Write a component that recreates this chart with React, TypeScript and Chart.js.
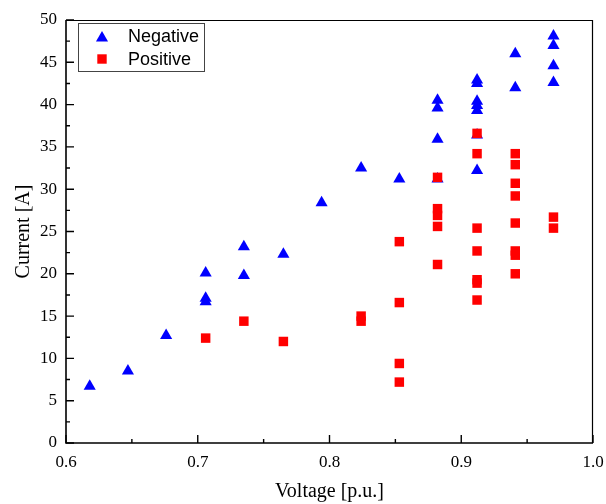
import React, { useEffect, useRef } from "react";
import { Chart, registerables } from "chart.js";

Chart.register(...registerables);

// Negative series (triangles)
const negVoltage = [
  0.618, 0.647, 0.676,
  0.706, 0.706, 0.706,
  0.735, 0.735,
  0.765, 0.794, 0.824, 0.853,
  0.882, 0.882, 0.882, 0.882,
  0.912, 0.912, 0.912, 0.912, 0.912, 0.912, 0.912,
  0.941, 0.941,
  0.97, 0.97, 0.97, 0.97,
];
const negCurrent = [
  6.7, 8.5, 12.7,
  20.1, 17.1, 16.7,
  23.2, 19.8,
  22.3, 28.4, 32.5, 31.2,
  40.5, 39.6, 35.9, 31.2,
  42.9, 42.5, 40.4, 39.9, 39.3, 36.4, 32.2,
  46.0, 42.0,
  48.1, 47.0, 44.6, 42.6,
];

// Positive series (squares)
const posVoltage = [
  0.706, 0.735, 0.765,
  0.824, 0.824,
  0.853, 0.853, 0.853, 0.853,
  0.882, 0.882, 0.882, 0.882, 0.882,
  0.912, 0.912, 0.912, 0.912, 0.912, 0.912, 0.912,
  0.941, 0.941, 0.941, 0.941, 0.941, 0.941, 0.941, 0.941,
  0.97, 0.97,
];
const posCurrent = [
  12.4, 14.4, 12.0,
  15.0, 14.4,
  23.8, 16.6, 9.4, 7.2,
  31.4, 27.7, 26.9, 25.6, 21.1,
  36.6, 34.2, 25.4, 22.7, 19.3, 18.9, 16.9,
  34.2, 32.9, 30.7, 29.2, 26.0, 22.7, 22.2, 20.0,
  26.7, 25.4,
];

const seriesLabels = ["Negative", "Positive"];
const xTitle = "Voltage [p.u.]";
const yTitle = "Current [A]";

const xMajor = [0.6, 0.7, 0.8, 0.9, 1.0];
const xMinor = [0.65, 0.75, 0.85, 0.95];
const yMajor = [0, 5, 10, 15, 20, 25, 30, 35, 40, 45, 50];
const yMinor = [2.5, 7.5, 12.5, 17.5, 22.5, 27.5, 32.5, 37.5, 42.5, 47.5];

const framePlugin = {
  id: "frameTicks",
  afterDatasetsDraw(chart: any) {
    const { ctx, chartArea } = chart;
    const xs = chart.scales.x;
    const ys = chart.scales.y;
    const { left, right, top, bottom } = chartArea;
    ctx.save();
    ctx.strokeStyle = "#000";
    // top & right frame
    ctx.lineWidth = 1.2;
    ctx.beginPath();
    ctx.moveTo(left, top + 0.5);
    ctx.lineTo(right, top + 0.5);
    ctx.moveTo(right - 0.5, top);
    ctx.lineTo(right - 0.5, bottom);
    ctx.stroke();
    // left & bottom axes
    ctx.lineWidth = 1.6;
    ctx.beginPath();
    ctx.moveTo(left, top);
    ctx.lineTo(left, bottom);
    ctx.lineTo(right, bottom);
    ctx.stroke();
    // inward ticks
    ctx.lineWidth = 1.4;
    ctx.beginPath();
    xMajor.forEach((v) => {
      const p = xs.getPixelForValue(v);
      ctx.moveTo(p, bottom);
      ctx.lineTo(p, bottom - 8);
    });
    xMinor.forEach((v) => {
      const p = xs.getPixelForValue(v);
      ctx.moveTo(p, bottom);
      ctx.lineTo(p, bottom - 4);
    });
    yMajor.forEach((v) => {
      const p = ys.getPixelForValue(v);
      ctx.moveTo(left, p);
      ctx.lineTo(left + 8, p);
    });
    yMinor.forEach((v) => {
      const p = ys.getPixelForValue(v);
      ctx.moveTo(left, p);
      ctx.lineTo(left + 4, p);
    });
    ctx.stroke();

    // legend box
    const bx = left + 12, by = top + 3, bw = 126, bh = 48;
    ctx.lineWidth = 1;
    ctx.strokeStyle = "#444";
    ctx.fillStyle = "#fff";
    ctx.fillRect(bx, by, bw, bh);
    ctx.strokeRect(bx + 0.5, by + 0.5, bw, bh);
    // triangle marker
    const mx = bx + 24;
    const r = 7;
    const cy = by + 15;
    ctx.fillStyle = "#0000FF";
    ctx.beginPath();
    ctx.moveTo(mx, cy - r);
    ctx.lineTo(mx + r * Math.sin((2 * Math.PI) / 3), cy - r * Math.cos((2 * Math.PI) / 3));
    ctx.lineTo(mx + r * Math.sin((4 * Math.PI) / 3), cy - r * Math.cos((4 * Math.PI) / 3));
    ctx.closePath();
    ctx.fill();
    // square marker
    const s = 4.7;
    const cy2 = by + 36;
    ctx.fillStyle = "#FF0000";
    ctx.fillRect(mx - s, cy2 - s, 2 * s, 2 * s);
    // text
    ctx.fillStyle = "#000";
    ctx.font = '18px "Liberation Sans", Arial, sans-serif';
    ctx.textBaseline = "middle";
    ctx.textAlign = "left";
    ctx.fillText(seriesLabels[0], bx + 50, by + 14);
    ctx.fillText(seriesLabels[1], bx + 50, by + 37);
    ctx.restore();
  },
};

export default function App() {
  const ref = useRef<HTMLCanvasElement | null>(null);
  useEffect(() => {
    if (!ref.current) return;
    const negData = negVoltage.map((v, i) => ({ x: v, y: negCurrent[i] }));
    const posData = posVoltage.map((v, i) => ({ x: v, y: posCurrent[i] }));
    const tickFont = { family: '"Liberation Serif", "Times New Roman", serif', size: 17 };
    const titleFont = { family: '"Liberation Serif", "Times New Roman", serif', size: 20 };
    const chart = new Chart(ref.current, {
      type: "scatter",
      data: {
        datasets: [
          {
            label: seriesLabels[1],
            data: posData,
            pointStyle: "rect",
            pointRadius: 6.7,
            pointHoverRadius: 6.7,
            pointBorderWidth: 0,
            backgroundColor: "#FF0000",
            borderColor: "#FF0000",
          },
          {
            label: seriesLabels[0],
            data: negData,
            pointStyle: "triangle",
            pointRadius: 7,
            pointHoverRadius: 7,
            pointBorderWidth: 0,
            backgroundColor: "#0000FF",
            borderColor: "#0000FF",
          },
        ],
      },
      options: {
        animation: false,
        responsive: false,
        devicePixelRatio: 1,
        layout: { padding: { top: 20, right: 13, left: 0, bottom: 0 } },
        plugins: { legend: { display: false }, tooltip: { enabled: false } },
        scales: {
          x: {
            type: "linear",
            min: 0.6,
            max: 1.0,
            grid: { display: false, drawTicks: false, tickLength: 0 },
            border: { display: false },
            ticks: {
              stepSize: 0.1,
              padding: 9,
              color: "#000",
              font: tickFont,
              maxRotation: 0,
              callback: (v: any) => Number(v).toFixed(1),
            },
            title: { display: true, text: xTitle, color: "#000", font: titleFont, padding: { top: 0, bottom: 0 } },
            afterFit: (s: any) => {
              s.height = 61;
              s.paddingLeft = 0;
              s.paddingRight = 0;
            },
          },
          y: {
            type: "linear",
            min: 0,
            max: 50,
            grid: { display: false, drawTicks: false, tickLength: 0 },
            border: { display: false },
            ticks: {
              stepSize: 5,
              padding: 9,
              color: "#000",
              font: tickFont,
            },
            title: { display: true, text: yTitle, color: "#000", font: titleFont, padding: { top: 12, bottom: 0 } },
            afterFit: (s: any) => {
              s.width = 66;
              s.paddingTop = 0;
              s.paddingBottom = 0;
            },
          },
        },
      },
      plugins: [framePlugin],
    });
    return () => chart.destroy();
  }, []);
  return (
    <div style={{ position: "fixed", left: 0, top: 0, width: 606, height: 504, background: "#fff" }}>
      <canvas ref={ref} width={606} height={504} style={{ display: "block" }} />
    </div>
  );
}
